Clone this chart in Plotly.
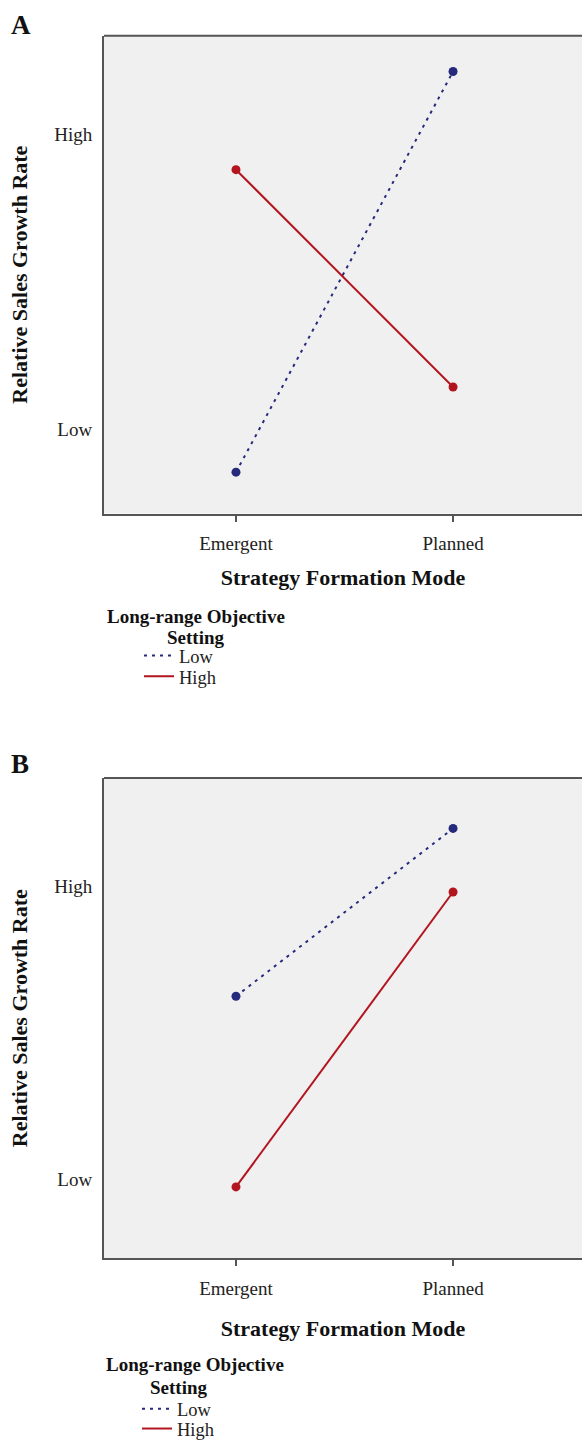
import plotly.graph_objects as go

# ---- data ----
categories = ["Emergent", "Planned"]
y_tick_vals = [0, 1]
y_tick_text = ["Low", "High"]
series_names = ["Low", "High"]

a_low = [-0.144, 1.211]
a_high = [0.879, 0.144]
b_low = [0.624, 1.197]
b_high = [-0.027, 0.980]

# ---- styles ----
W, H = 582, 1448
FONT = "Liberation Serif"
BLUE = "#262a7c"
RED = "#b3151f"
AXC = "#555555"
BG = "#f0f0f0"


def py(px):
    """pixel-from-top to paper fraction"""
    return 1 - px / H


def px_x(px):
    return px / W


fig = go.Figure()

panels = [
    ("x", "y", ("legend", "legend2"), a_low, a_high),
    ("x2", "y2", ("legend3", "legend4"), b_low, b_high),
]
for xa, ya, lgs, low, high in panels:
    for vals, name, color, dash, lg in [(low, series_names[0], BLUE, "3px,5px", lgs[0]),
                                        (high, series_names[1], RED, "solid", lgs[1])]:
        fig.add_trace(go.Scatter(
            x=categories, y=vals, xaxis=xa, yaxis=ya, mode="lines",
            name=name, legend=lg, showlegend=True,
            line=dict(color=color, width=2, dash=dash),
            hoverinfo="skip"))
        fig.add_trace(go.Scatter(
            x=categories, y=vals, xaxis=xa, yaxis=ya, mode="markers",
            name=name, legend=lg, showlegend=False,
            marker=dict(color=color, size=9),
            hoverinfo="skip"))

xdom = [px_x(104), 1.0]
doms = {
    "A": [py(517.5), py(36)],
    "B": [py(1268), py(784)],
}


def x_axis(anchor, title_standoff):
    return dict(
        type="category", range=[-0.608, 1.594], showgrid=False, zeroline=False,
        showline=True, linecolor=AXC, linewidth=2, mirror=False,
        ticks="outside", ticklen=6, tickwidth=1.5, tickcolor=AXC,
        tickfont=dict(family=FONT, size=19, color="#222222"),
        ticklabelstandoff=6,
        title=dict(text="<b>Strategy Formation Mode</b>", standoff=title_standoff,
                   font=dict(family=FONT, size=22, color="#111111")),
        domain=xdom, fixedrange=True, anchor=anchor,
    )


def y_axis(anchor, rng, dom):
    return dict(
        tickvals=y_tick_vals, ticktext=y_tick_text, showgrid=False, zeroline=False,
        showline=True, linecolor=AXC, linewidth=2, ticks="",
        tickfont=dict(family=FONT, size=19, color="#222222"),
        ticklabelstandoff=6,
        title=dict(text="<b>Relative Sales Growth Rate</b>", standoff=20,
                   font=dict(family=FONT, size=22, color="#111111")),
        fixedrange=True, anchor=anchor, range=rng, domain=dom,
    )


def legend_at(x_px, y_px):
    return dict(x=px_x(x_px), y=py(y_px), xanchor="left", yanchor="middle",
                bgcolor="rgba(0,0,0,0)",
                font=dict(family=FONT, size=18.5, color="#222222"),
                itemwidth=30)


fig.update_layout(
    width=W, height=H, margin=dict(l=0, r=0, t=0, b=0),
    paper_bgcolor="white", plot_bgcolor=BG,
    xaxis=x_axis("y", 16),
    yaxis=y_axis("x", [-0.284, 1.332], doms["A"]),
    xaxis2=x_axis("y2", 22),
    yaxis2=y_axis("x2", [-0.271, 1.369], doms["B"]),
    legend=legend_at(139, 661),
    legend2=legend_at(139, 682),
    legend3=legend_at(137, 1420),
    legend4=legend_at(137, 1440),
    showlegend=True,
)

# top frame lines of each panel
for ya in ["y", "y2"]:
    fig.add_shape(type="line", xref="paper", yref=f"{ya} domain",
                  x0=xdom[0], x1=1.0, y0=1, y1=1,
                  line=dict(color=AXC, width=2))


def label(text, x_px, y_px, size, xanchor="left"):
    fig.add_annotation(text=text, xref="paper", yref="paper",
                       x=px_x(x_px), y=py(y_px), xanchor=xanchor, yanchor="middle",
                       showarrow=False, font=dict(family=FONT, size=size, color="#111111"))


# panel letters
label("<b>A</b>", 9, 25, 27)
label("<b>B</b>", 9, 770, 27)

# legend titles
label("<b>Long-range Objective</b>", 105, 621, 19)
label("<b>Setting</b>", 196, 642, 19, xanchor="center")
label("<b>Long-range Objective</b>", 104, 1375, 19)
label("<b>Setting</b>", 148, 1398, 19)

fig.write_html("out.html", config={"displayModeBar": False},
               post_script="document.body.style.margin='0px';")
